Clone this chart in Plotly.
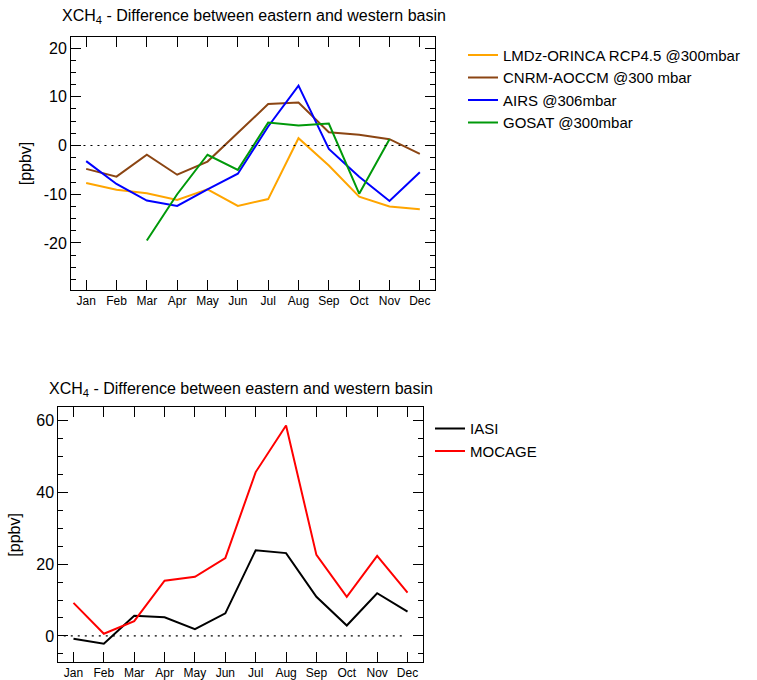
import plotly.graph_objects as go

W, H = 757, 680
months = ["Jan", "Feb", "Mar", "Apr", "May", "Jun", "Jul", "Aug", "Sep", "Oct", "Nov", "Dec"]
month_idx = list(range(1, 13))

lmdz = [-7.7, -9.1, -9.8, -11.2, -9.0, -12.4, -11.0, 1.5, -4.1, -10.5, -12.5, -13.1]
cnrm = [-4.8, -6.4, -1.9, -6.0, -3.3, 2.5, 8.5, 8.8, 2.7, 2.2, 1.3, -1.7]
airs = [-3.2, -7.9, -11.3, -12.4, -9.0, -5.8, 3.9, 12.3, -0.7, -6.4, -11.4, -5.5]
gosat = [None, None, -19.5, -10.0, -1.9, -5.0, 4.7, 4.1, 4.5, -9.9, 1.3, None]

iasi = [-0.8, -2.2, 5.6, 5.2, 1.9, 6.3, 23.9, 23.1, 10.9, 2.9, 11.9, 6.8]
mocage = [9.2, 0.6, 4.1, 15.4, 16.5, 21.7, 45.7, 58.7, 22.6, 10.9, 22.3, 12.1]

top_yticks = [-20, -10, 0, 10, 20]
top_yticklabels = ["-20", "-10", "0", "10", "20"]
bottom_yticks = [0, 20, 40, 60]
bottom_yticklabels = ["0", "20", "40", "60"]

top_series = [
    ("LMDz-ORINCA RCP4.5 @300mbar", lmdz, "#FFA500"),
    ("CNRM-AOCCM @300 mbar", cnrm, "#8B4513"),
    ("AIRS @306mbar", airs, "#0000FF"),
    ("GOSAT @300mbar", gosat, "#00990A"),
]
bottom_series = [
    ("IASI", iasi, "#000000"),
    ("MOCAGE", mocage, "#FF0000"),
]

FONT = "Liberation Sans, Arial, Helvetica, sans-serif"
TITLE = "XCH<sub>4</sub> - Difference between eastern and western basin"

fig = go.Figure()

for name, vals, col in top_series:
    fig.add_trace(go.Scatter(x=month_idx, y=vals, mode="lines", name=name,
                             line=dict(color=col, width=2), xaxis="x", yaxis="y",
                             legend="legend", connectgaps=False))
for name, vals, col in bottom_series:
    fig.add_trace(go.Scatter(x=month_idx, y=vals, mode="lines", name=name,
                             line=dict(color=col, width=2), xaxis="x2", yaxis="y2",
                             legend="legend2"))

# zero reference lines
fig.add_trace(go.Scatter(x=[0.68, 11.85], y=[0, 0], mode="lines", showlegend=False,
                         line=dict(color="black", width=1.2, dash="2px,5px"),
                         xaxis="x", yaxis="y", hoverinfo="skip"))
fig.add_trace(go.Scatter(x=[0.68, 11.9], y=[0, 0], mode="lines", showlegend=False,
                         line=dict(color="black", width=1.2, dash="2px,5px"),
                         xaxis="x2", yaxis="y2", hoverinfo="skip"))


def px_x(v):
    return v / W


def px_y(v):
    return 1 - v / H


common_x = dict(range=[0.5, 12.5], tickmode="array", tickvals=month_idx, ticktext=months,
                ticks="inside", ticklen=10, tickcolor="black", showline=True, linecolor="black",
                linewidth=1, mirror="allticks", showgrid=False, zeroline=False,
                tickfont=dict(size=12, color="black", family=FONT))
common_y = dict(ticks="inside", ticklen=10, tickcolor="black", showline=True, linecolor="black",
                linewidth=1, mirror="allticks", showgrid=False, zeroline=False,
                tickfont=dict(size=16, color="black", family=FONT), tickmode="array")

fig.update_layout(
    width=W, height=H, margin=dict(l=0, r=0, t=0, b=0),
    paper_bgcolor="white", plot_bgcolor="white",
    font=dict(family=FONT, color="black"),
    xaxis=dict(common_x, domain=[px_x(71), px_x(435)], anchor="y"),
    yaxis=dict(common_y, domain=[px_y(291), px_y(37)], anchor="x", range=[-29.6, 22.3],
               tickvals=top_yticks, ticktext=top_yticklabels,
               minor=dict(ticks="inside", ticklen=5, tickcolor="black", tickmode="linear",
                          dtick=2.5, tick0=0)),
    xaxis2=dict(common_x, domain=[px_x(58.3), px_x(422.7)], anchor="y2"),
    yaxis2=dict(common_y, domain=[px_y(665), px_y(409)], anchor="x2", range=[-7.3, 63.8],
                tickvals=bottom_yticks, ticktext=bottom_yticklabels,
                minor=dict(ticks="inside", ticklen=5, tickcolor="black", tickmode="linear",
                           dtick=5, tick0=0)),
    legend=dict(x=px_x(463), y=px_y(39), xanchor="left", yanchor="top",
                font=dict(size=15, color="black", family=FONT), bgcolor="rgba(0,0,0,0)",
                tracegroupgap=0),
    legend2=dict(x=px_x(430), y=px_y(414), xanchor="left", yanchor="top",
                 font=dict(size=15, color="black", family=FONT), bgcolor="rgba(0,0,0,0)",
                 tracegroupgap=0),
    annotations=[
        dict(text=TITLE, x=px_x(254), y=px_y(17), xref="paper", yref="paper", showarrow=False,
             xanchor="center", yanchor="middle", font=dict(size=16, color="black", family=FONT)),
        dict(text=TITLE, x=px_x(241), y=px_y(391), xref="paper", yref="paper", showarrow=False,
             xanchor="center", yanchor="middle", font=dict(size=16, color="black", family=FONT)),
        dict(text="[ppbv]", x=px_x(25), y=px_y(164), xref="paper", yref="paper",
             showarrow=False, textangle=-90, xanchor="center", yanchor="middle",
             font=dict(size=16, color="black", family=FONT)),
        dict(text="[ppbv]", x=px_x(15), y=px_y(537), xref="paper", yref="paper",
             showarrow=False, textangle=-90, xanchor="center", yanchor="middle",
             font=dict(size=16, color="black", family=FONT)),
    ],
)

fig.write_html("out.html")
